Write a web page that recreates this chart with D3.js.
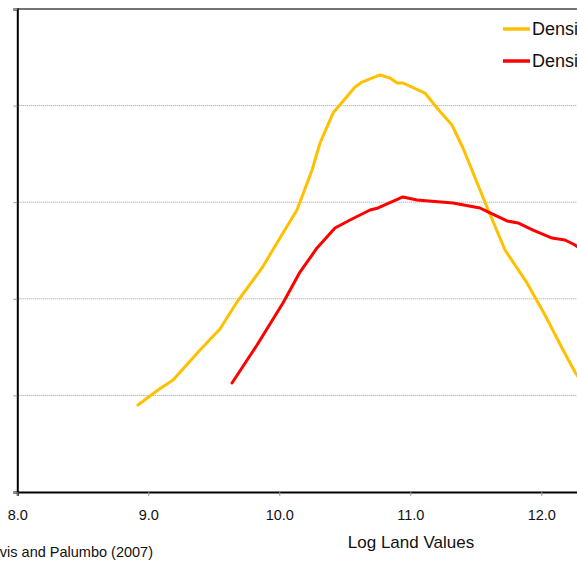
<!DOCTYPE html>
<html>
<head>
<meta charset="utf-8">
<script src="https://cdn.jsdelivr.net/npm/d3@7/dist/d3.min.js"></script>
<style>
  body { margin: 0; background: #fff; }
  svg { display: block; font-family: "Liberation Sans", Arial, sans-serif; }
</style>
</head>
<body>
<svg width="577" height="563"></svg>
<script>
// **** Data ****
var xTicks = [8, 9, 10, 11, 12];
var yTicks = [0, 1, 2, 3, 4, 5];

var seriesNames = ["Density, Earlier Period", "Density, Later Period"];
var seriesColors = ["#ffc000", "#ff0000"];

var yellowX = [8.921, 9.074, 9.189, 9.395, 9.547, 9.677, 9.868, 10.028, 10.135, 10.250,
    10.311, 10.410, 10.578, 10.632, 10.769, 10.845, 10.899, 10.944, 11.112, 11.204,
    11.318, 11.402, 11.585, 11.723, 11.891, 12.028, 12.158, 12.257, 12.371];
var yellowY = [0.90, 1.056, 1.159, 1.470, 1.687, 1.967, 2.319, 2.681, 2.919, 3.333,
    3.613, 3.923, 4.193, 4.244, 4.317, 4.286, 4.234, 4.234, 4.130, 3.975,
    3.799, 3.561, 2.950, 2.505, 2.164, 1.832, 1.491, 1.242, 1.004];

var redX = [9.639, 9.830, 10.028, 10.158, 10.288, 10.425, 10.540, 10.693, 10.754, 10.944,
    11.051, 11.326, 11.532, 11.593, 11.738, 11.822, 11.937, 12.082, 12.181, 12.257, 12.371];
var redY = [1.128, 1.522, 1.957, 2.277, 2.526, 2.733, 2.816, 2.919, 2.940, 3.054,
    3.023, 2.992, 2.940, 2.899, 2.806, 2.785, 2.712, 2.629, 2.609, 2.557, 2.453];

// **** Scales ****
var xScale = d3.scaleLinear().domain([8, 13]).range([17.3, 672.3]);
var yScale = d3.scaleLinear().domain([0, 5]).range([492, 9]);

var svg = d3.select('svg');

// gridlines
svg.append('g').attr('class', 'grid')
    .selectAll('line')
    .data(yTicks.slice(1, 5))
    .enter().append('line')
    .attr('x1', xScale(8)).attr('x2', xScale(13))
    .attr('y1', function (d) { return yScale(d); })
    .attr('y2', function (d) { return yScale(d); })
    .attr('stroke', '#9a9a9a')
    .attr('stroke-width', 1)
    .attr('stroke-dasharray', '1,1');

// top frame
svg.append('line')
    .attr('x1', xScale(8)).attr('x2', xScale(13))
    .attr('y1', yScale(5)).attr('y2', yScale(5))
    .attr('stroke', '#444').attr('stroke-width', 1.5);

// axes
var yAxis = svg.append('g').attr('class', 'y axis')
    .attr('transform', 'translate(' + xScale(8) + ',0)')
    .call(d3.axisLeft(yScale).tickValues(yTicks).tickSize(4).tickFormat(''));

var xAxis = svg.append('g').attr('class', 'x axis')
    .attr('transform', 'translate(0,' + yScale(0) + ')')
    .call(d3.axisBottom(xScale).tickValues(xTicks).tickSize(4).tickPadding(14)
        .tickFormat(d3.format('.1f')));

[yAxis, xAxis].forEach(function (ax) {
    ax.select('.domain').attr('stroke', '#000').attr('stroke-width', 2);
    ax.selectAll('.tick line').attr('stroke', '#999');
});
xAxis.selectAll('.tick text')
    .attr('font-size', 14.5).attr('fill', '#111')
    .attr('font-family', '"Liberation Sans", Arial, sans-serif');

// lines
var line = d3.line()
    .x(function (d) { return xScale(d[0]); })
    .y(function (d) { return yScale(d[1]); });

var series = [d3.zip(yellowX, yellowY), d3.zip(redX, redY)];
series.forEach(function (pts, i) {
    svg.append('path')
        .datum(pts)
        .attr('d', line)
        .attr('fill', 'none')
        .attr('stroke', seriesColors[i])
        .attr('stroke-width', 3)
        .attr('stroke-linejoin', 'round')
        .attr('stroke-linecap', 'round');
});

// legend
seriesNames.forEach(function (name, i) {
    var y = 29 + i * 32;
    svg.append('line')
        .attr('x1', 503).attr('x2', 530)
        .attr('y1', y).attr('y2', y)
        .attr('stroke', seriesColors[i]).attr('stroke-width', 3.5);
    svg.append('text')
        .attr('x', 532).attr('y', y + 6)
        .attr('font-size', 18).attr('fill', '#111')
        .text(name);
});

// labels
svg.append('text')
    .attr('x', 411).attr('y', 548)
    .attr('text-anchor', 'middle')
    .attr('font-size', 17).attr('fill', '#111')
    .text('Log Land Values');

svg.append('text')
    .attr('x', 153).attr('y', 557)
    .attr('text-anchor', 'end')
    .attr('font-size', 14.5).attr('fill', '#111')
    .text('Source: Davis and Palumbo (2007)');
</script>
</body>
</html>
